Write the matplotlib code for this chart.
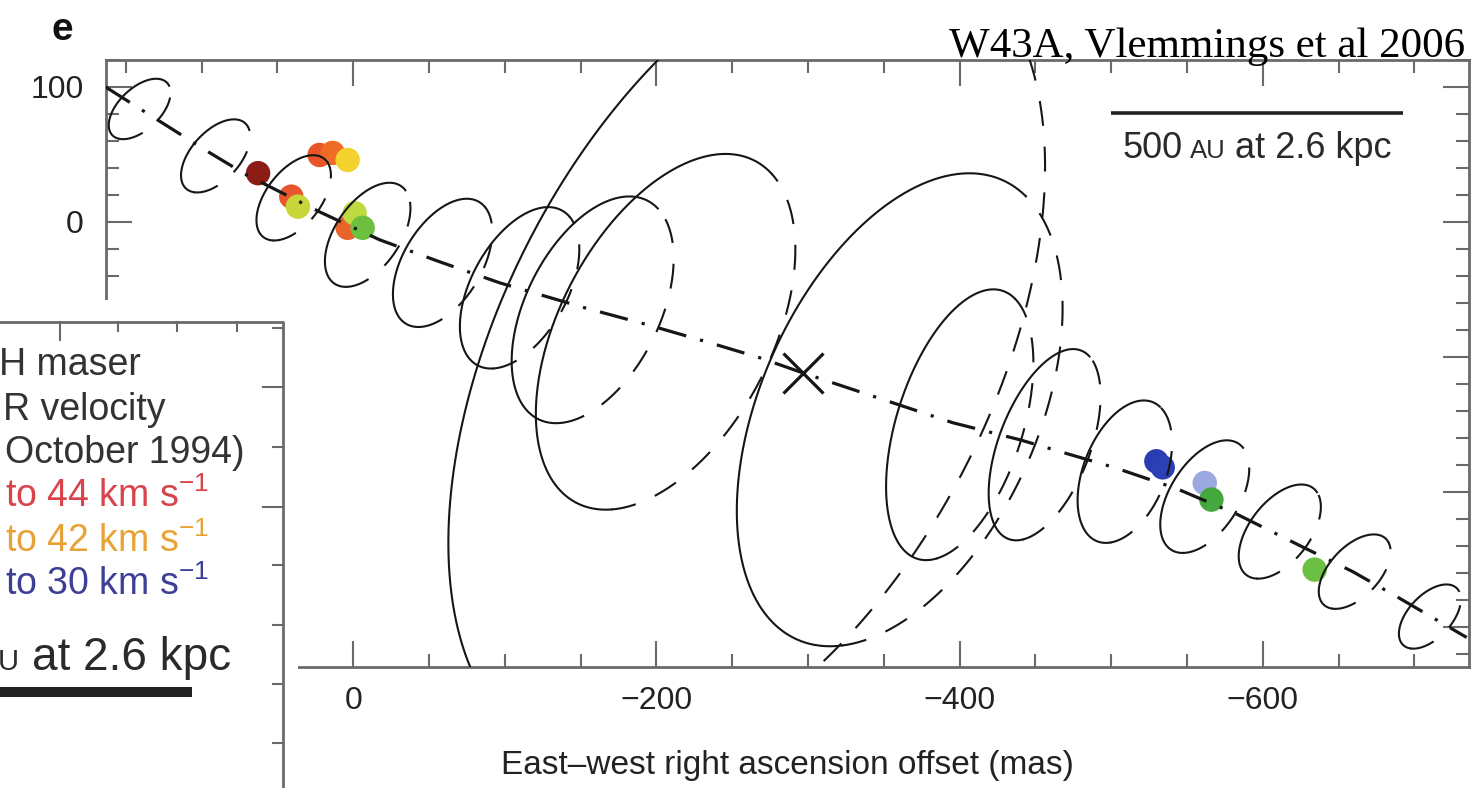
import numpy as np
import matplotlib
matplotlib.use("Agg")
import matplotlib.pyplot as plt
from matplotlib.patches import Rectangle
from matplotlib.lines import Line2D
from matplotlib.ticker import MultipleLocator, FuncFormatter
import matplotlib.transforms as mtransforms

plt.rcParams['font.family'] = ['Liberation Sans', 'DejaVu Sans']
plt.rcParams['mathtext.fontset'] = 'custom'
plt.rcParams['mathtext.rm'] = 'Liberation Sans'
plt.rcParams['mathtext.it'] = 'Liberation Sans:italic'
plt.rcParams['mathtext.bf'] = 'Liberation Sans:bold'

W, H = 1476, 788

# jet axis, offsets in mas (RA east positive, Dec)
jet_x = [163.3, 134.2, 96.6, 70.3, 22.1, -17.5, -57.1, -96.7, -152.7, -194.3,
         -235.2, -268.1, -296.5, -355.9, -395.5, -439.6, -502.3, -543.2,
         -583.4, -625.7, -659.3, -688.3, -734.5]
jet_y = [100.0, 79.3, 52.6, 34.8, 7.4, -13.3, -29.6, -45.2, -63.7, -76.3,
         -89.6, -100.7, -111.9, -134.1, -148.9, -161.5, -182.2, -197.8,
         -217.0, -240.7, -259.3, -277.8, -308.1]

# precession rings along the jet: centre, semi-axes (mas), position angle (deg)
ring_x = [140.8, 90.7, 39.2, -9.6, -59.0, -109.8, -158.0, -206.1, -259.6,
          -360.5, -400.1, -456.1, -509.0, -561.7, -611.2, -660.6, -710.2]
ring_y = [83.7, 48.9, 17.8, -9.6, -30.4, -48.9, -65.2, -81.5, -98.5,
          -139.3, -150.4, -165.2, -185.2, -203.7, -229.6, -259.3, -292.6]
ring_a = [26.6, 31.2, 35.4, 42.4, 51.3, 63.9, 88.8, 140.0, 324.0,
          183.5, 103.3, 73.9, 54.8, 45.3, 39.1, 32.0, 27.6]
ring_b = [14.5, 16.8, 18.7, 22.1, 26.5, 32.4, 45.1, 71.5, 165.4,
          92.8, 42.0, 30.5, 27.5, 23.5, 20.6, 17.3, 14.9]
ring_pa = [50, 54, 58, 61, 64, 66, 68, 67, 67.5,
           70, 75, 72, 72, 63, 58, 53, 53]

# central star
star_x, star_y = -296.5, -111.9

# H2O maser spots, coloured by velocity
spot_x = [62.7, 22.1, 13.5, 3.6, 40.8, 36.4, 3.6, -1.0, -6.3,
          -529.8, -534.0, -561.7, -566.1, -634.2]
spot_y = [36.1, 49.6, 51.1, 45.9, 18.7, 11.3, -4.4, 6.4, -4.4,
          -177.5, -182.0, -193.6, -205.9, -257.8]
spot_c = ['#8e1c16', '#e8532a', '#ef6c26', '#f3d42e', '#e9552c', '#c9d63a',
          '#e9642a', '#bfd940', '#6cbf3f',
          '#2a3db0', '#2b40b5', '#9ca8e0', '#45a83e', '#6cc044']

# 500 AU at 2.6 kpc in mas
bar_len = 192.3
bar_x0, bar_y = -500.0, 81.0

fig = plt.figure(figsize=(W / 100, H / 100), dpi=100)
ax = fig.add_axes([106 / W, 1 - 667 / H, (1469 - 106) / W, (667 - 60) / H])
ax.set_xlim(163, -736)
ax.set_ylim(-330, 120)

ink = '#161616'
# near side of each ring drawn solid, far side dashed
t_front = np.radians(np.linspace(-15, 195, 300))
t_back = np.radians(np.linspace(195, 345, 300))


def ring(cx, cy, a, b, pa, t):
    p = np.radians(pa)
    u = a * np.cos(t) * np.cos(p) - b * np.sin(t) * np.sin(p)
    v = a * np.cos(t) * np.sin(p) + b * np.sin(t) * np.cos(p)
    return cx - u, cy + v


for cx, cy, a, b, pa in zip(ring_x, ring_y, ring_a, ring_b, ring_pa):
    xs, ys = ring(cx, cy, a, b, pa, t_front)
    ax.plot(xs, ys, color=ink, lw=1.5, zorder=3)
    xs, ys = ring(cx, cy, a, b, pa, t_back)
    ax.plot(xs, ys, color=ink, lw=1.5, dashes=(12, 10), zorder=3)

ax.scatter(spot_x, spot_y, s=310, c=spot_c, linewidths=0, zorder=2)
ax.plot(jet_x, jet_y, color=ink, lw=2.3, dashes=(9, 4.5, 1, 4.5), zorder=4)
ax.plot(star_x, star_y, marker='x', ms=29, mew=2.3, color=ink, zorder=5)

# scale bar
ax.plot([bar_x0, bar_x0 - bar_len], [bar_y, bar_y], color='#222222', lw=2.6,
        solid_capstyle='butt', zorder=4)

for side in ax.spines.values():
    side.set_color('#6a6a6a')
    side.set_linewidth(2.0)
ax.xaxis.set_major_locator(MultipleLocator(200))
ax.xaxis.set_minor_locator(MultipleLocator(50))
ax.yaxis.set_major_locator(MultipleLocator(100))
ax.yaxis.set_minor_locator(MultipleLocator(20))
ax.xaxis.set_major_formatter(FuncFormatter(lambda v, pos: f'{v:.0f}'.replace('-', '\u2212')))
# lower Dec labels sit behind the inset panel
ax.yaxis.set_major_formatter(FuncFormatter(lambda v, pos: f'{v:.0f}' if v >= 0 else ''))
ax.tick_params(which='both', direction='in', top=True, right=True,
               color='#6a6a6a', width=1.5, labelsize=23, labelcolor='#222222')
ax.tick_params(which='major', length=19)
ax.tick_params(which='minor', length=9.5)
ax.tick_params(axis='x', pad=14)
ax.tick_params(axis='y', pad=16)
ax.set_xlabel('East\u2013west right ascension offset (mas)', fontsize=24,
              color='#222222')
ax.xaxis.set_label_coords(0.5, -0.137)

renderer = fig.canvas.get_renderer()
px = mtransforms.Affine2D().scale(1, -1).translate(0, H)


def text_run(x, y, pieces, color, ha='left'):
    # lay out pieces of different size on one baseline, pixel offsets
    widths = []
    for s, size in pieces:
        t = fig.text(0, 0, s, fontsize=size)
        widths.append(t.get_window_extent(renderer).width)
        t.remove()
    gap = [0.278 * size * 100 / 72 for s, size in pieces]
    total = sum(widths) + sum(gap[1:])
    x0 = x - total / 2 if ha == 'center' else x
    for i, (s, size) in enumerate(pieces):
        if i > 0:
            x0 += gap[i]
        fig.text(x0, y, s, fontsize=size, color=color, va='baseline',
                 ha='left', transform=px, zorder=12)
        x0 += widths[i]


bx, by = ax.transData.transform((bar_x0 - bar_len / 2, bar_y))
text_run(bx, H - by + 45, [('500', 26), ('AU', 18.5), ('at 2.6 kpc', 26)],
         '#2a2a2a', ha='center')

# inset panel covering the lower left corner
fig.add_artist(Rectangle((0, 0), 298 / W, (H - 300) / H, transform=fig.transFigure,
                         facecolor='white', edgecolor='none', zorder=10))
fig.add_artist(Line2D([-5 / W, 283 / W, 283 / W], [1 - 322 / H, 1 - 322 / H, -0.1],
                      transform=fig.transFigure, color='#6a6a6a', lw=2.0, zorder=11))
for i, tx in enumerate([60, 118, 177, 237]):
    ln = 18 if i == 0 else 9
    fig.add_artist(Line2D([tx / W, tx / W], [1 - 322 / H, 1 - (322 + ln) / H],
                          transform=fig.transFigure, color='#6a6a6a', lw=1.5, zorder=11))
for i, ty in enumerate([328, 387, 447, 507, 565, 625, 684, 743]):
    ln = 20 if i in (1, 3) else 10
    fig.add_artist(Line2D([283 / W, (283 - ln) / W], [1 - ty / H, 1 - ty / H],
                          transform=fig.transFigure, color='#6a6a6a', lw=1.5, zorder=11))

legend_lines = [
    ('H maser', '#333333', -1, 375),
    ('R velocity', '#333333', 3, 420),
    ('October 1994)', '#333333', 5, 463),
    ('to 44 km s$^{-1}$', '#d8434c', 5, 507),
    ('to 42 km s$^{-1}$', '#e8a338', 5, 552),
    ('to 30 km s$^{-1}$', '#3c3f95', 5, 595),
]
for s, c, x, y in legend_lines:
    fig.text(x, y, s, fontsize=27, color=c, va='baseline', ha='left',
             transform=px, zorder=12)
text_run(-2, 670, [('U', 21), ('at 2.6 kpc', 33)], '#2a2a2a')
fig.add_artist(Rectangle((-5 / W, 1 - 697 / H), 197 / W, 10 / H,
                         transform=fig.transFigure, facecolor='#222222',
                         edgecolor='none', zorder=12))

fig.text(62, 30, 'e', fontsize=28, fontweight='bold', color='#111111',
         ha='center', va='center', transform=px)
fig.text(1465, 57, 'W43A, Vlemmings et al 2006', fontsize=31,
         family='Liberation Serif', color='black', ha='right', va='baseline',
         transform=px)

fig.savefig('out.png', dpi=100)
